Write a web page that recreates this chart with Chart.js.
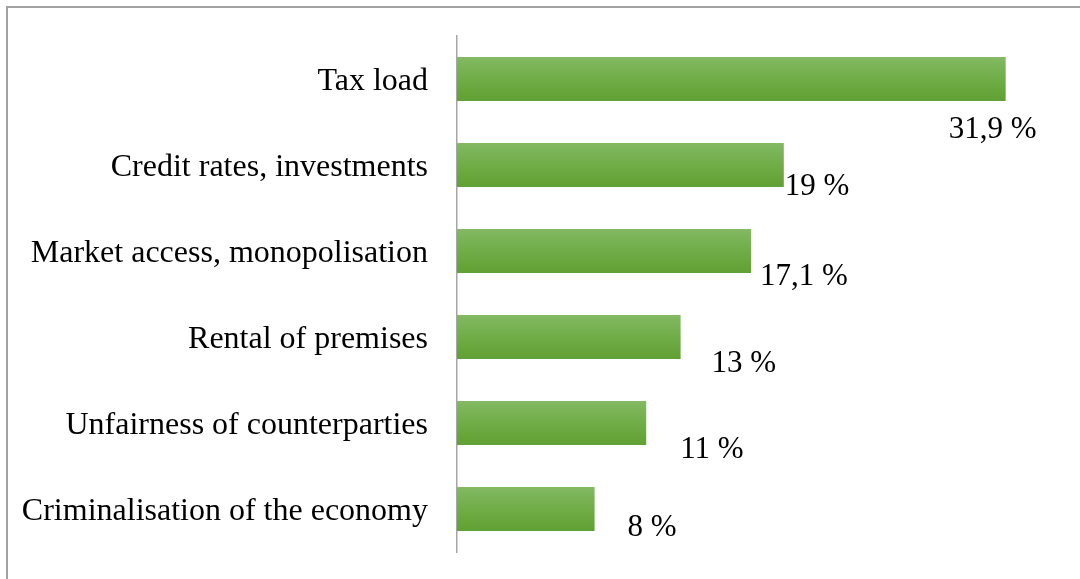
<!DOCTYPE html>
<html>
<head>
<meta charset="utf-8">
<script src="https://cdn.jsdelivr.net/npm/chart.js@4/dist/chart.umd.min.js"></script>
<style>
  html, body { margin: 0; padding: 0; background: #fff; }
  #wrap { position: relative; width: 1080px; height: 579px; overflow: hidden; }
  #frame {
    position: absolute; left: 6px; top: 6px; width: 1200px; height: 700px;
    border-top: 2px solid #a3a3a3; border-left: 2px solid #a3a3a3;
    pointer-events: none;
  }
  canvas { position: absolute; left: 0; top: 0; }
</style>
</head>
<body>
<div id="wrap">
  <canvas id="myChart" width="1080" height="579"></canvas>
  <div id="frame"></div>
</div>
<script>
// categories, top to bottom
const categories = [
  "Tax load",
  "Credit rates, investments",
  "Market access, monopolisation",
  "Rental of premises",
  "Unfairness of counterparties",
  "Criminalisation of the economy"
];
// share of respondents, %
const shares = [31.9, 19, 17.1, 13, 11, 8];

// hand-placed value labels: [dx from bar end, dy from bar centre]
const labelShift = [[-57, 51], [1, 21.5], [9, 25.5], [31, 26.5], [34, 26.5], [33, 19]];

const serif = '"Liberation Serif", "Times New Roman", serif';
const barPct = 0.51;

// vertical green gradient for each bar
function barFill(ctx) {
  const chart = ctx.chart;
  const y = chart.scales.y;
  if (!y || !chart.chartArea || ctx.dataIndex === undefined) return "#70ad47";
  const centre = y.getPixelForValue(ctx.dataIndex);
  const half = (y.height / categories.length) * barPct / 2;
  if (!isFinite(centre) || !isFinite(half)) return "#70ad47";
  const g = chart.ctx.createLinearGradient(0, centre - half, 0, centre + half);
  g.addColorStop(0, "#83b963");
  g.addColorStop(0.5, "#70ad47");
  g.addColorStop(1, "#61a034");
  return g;
}

const valueLabels = {
  id: "valueLabels",
  afterDatasetsDraw(chart) {
    const c = chart.ctx;
    const meta = chart.getDatasetMeta(0);
    c.save();
    c.font = "31px " + serif;
    c.fillStyle = "#000";
    c.textAlign = "left";
    c.textBaseline = "middle";
    meta.data.forEach((bar, i) => {
      const txt = String(shares[i]).replace(".", ",") + " %";
      c.fillText(txt, bar.x + labelShift[i][0], bar.y + labelShift[i][1]);
    });
    c.restore();
  }
};

const ctx = document.getElementById("myChart").getContext("2d");
const chart = new Chart(ctx, {
  type: "bar",
  data: {
    labels: categories,
    datasets: [{
      data: shares,
      backgroundColor: barFill,
      borderWidth: 0,
      categoryPercentage: 1,
      barPercentage: barPct
    }]
  },
  options: {
    indexAxis: "y",
    responsive: false,
    animation: false,
    layout: { padding: { left: 0, right: 21, top: 36, bottom: 27 } },
    scales: {
      x: { display: false, min: 0, max: 35 },
      y: {
        grid: { display: false, drawTicks: false },
        border: { display: true, color: "#a6a6a6", width: 1.5 },
        ticks: {
          color: "#000",
          padding: 29,
          labelOffset: 3,
          font: { family: serif, size: 32 }
        },
        afterFit(scale) {
          scale.width = 457;
          // no extra room above/below for the end labels
          scale.paddingTop = 0;
          scale.paddingBottom = 0;
        }
      }
    },
    plugins: {
      legend: { display: false },
      tooltip: { enabled: false }
    }
  },
  plugins: [valueLabels]
});
</script>
</body>
</html>
